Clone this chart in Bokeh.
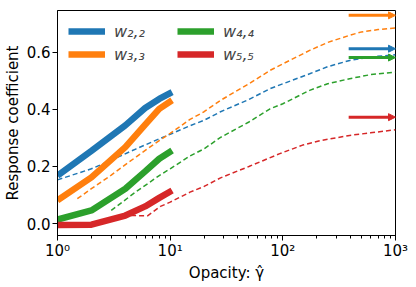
from bokeh.plotting import figure
from bokeh.models import (Range1d, FixedTicker, LogTicker, Legend, LegendItem,
                          Arrow, NormalHead, ColumnDataSource)
from bokeh.embed import file_html
from bokeh.resources import INLINE

# ---- data ----
labels = ["w₂,₂", "w₃,₃", "w₄,₄", "w₅,₅"]
colors = ["#1f77b4", "#ff7f0e", "#2ca02c", "#d62728"]

solid_x = [1, 2, 4, 6, 8, 10.4]
solid_w22 = [0.168, 0.255, 0.344, 0.405, 0.437, 0.461]
solid_w33 = [0.081, 0.162, 0.268, 0.347, 0.402, 0.432]
solid_w44 = [0.014, 0.046, 0.122, 0.183, 0.227, 0.256]
solid_w55 = [-0.005, -0.004, 0.028, 0.060, 0.090, 0.116]

dash_x_w22 = [1, 2, 3, 5, 8, 10, 15, 20, 28, 50, 77, 100, 173, 250, 392, 600, 1000]
dash_w22 = [0.153, 0.192, 0.222, 0.262, 0.297, 0.313, 0.343, 0.362, 0.392, 0.435,
            0.473, 0.490, 0.525, 0.550, 0.572, 0.584, 0.592]
dash_x_w33 = [1.5, 2, 3, 5, 8, 10, 15, 20, 28, 50, 77, 100, 173, 250, 392, 500,
              700, 1000]
dash_w33 = [0.087, 0.122, 0.170, 0.234, 0.291, 0.316, 0.365, 0.392, 0.432, 0.490,
            0.537, 0.560, 0.607, 0.635, 0.660, 0.672, 0.680, 0.686]
dash_x_w44 = [3, 5, 8, 10, 15, 20, 28, 50, 77, 100, 173, 250, 392, 600, 1000]
dash_w44 = [0.046, 0.112, 0.168, 0.192, 0.237, 0.262, 0.302, 0.356, 0.402, 0.420,
            0.467, 0.490, 0.508, 0.522, 0.531]
dash_x_w55 = [4.5, 6.3, 8.2, 10, 15, 20, 28, 50, 94, 150, 217, 392, 600, 1000]
dash_w55 = [0.028, 0.027, 0.060, 0.075, 0.110, 0.130, 0.160, 0.200, 0.245, 0.275,
            0.291, 0.309, 0.318, 0.329]

limit_values = [0.613, 0.730, 0.582, 0.373]
arrow_x_start = 384
arrow_x_end = 1000

y_ticks = [0.0, 0.2, 0.4, 0.6]
x_ticks = [1, 10, 100, 1000]
x_tick_labels = ["10⁰", "10¹", "10²", "10³"]

p = figure(width=410, height=284, x_axis_type="log",
           x_range=Range1d(1, 1000), y_range=Range1d(-0.042, 0.747),
           output_backend="svg", toolbar_location=None,
           min_border_left=57, min_border_top=10, min_border_right=15,
           min_border_bottom=49)
p.grid.visible = False
p.outline_line_color = "black"
p.outline_line_width = 1
p.background_fill_color = "white"
p.border_fill_color = "white"

solids = [solid_w22, solid_w33, solid_w44, solid_w55]
dxs = [dash_x_w22, dash_x_w33, dash_x_w44, dash_x_w55]
dys = [dash_w22, dash_w33, dash_w44, dash_w55]

items = []
for i in range(4):
    p.line(dxs[i], dys[i], line_color=colors[i], line_width=1.5,
           line_dash="5 3")
for i in range(4):
    r = p.line(solid_x, solids[i], line_color=colors[i], line_width=6.5)
    items.append(LegendItem(label=labels[i], renderers=[r]))

for i in range(4):
    src = ColumnDataSource(dict(x0=[arrow_x_start], x1=[arrow_x_end],
                                y=[limit_values[i]]))
    p.add_layout(Arrow(x_start="x0", x_end="x1", y_start="y", y_end="y",
                       source=src, line_color=colors[i], line_width=3,
                       end=NormalHead(size=7, fill_color=colors[i],
                                      line_color=colors[i], line_width=1)))

legend = Legend(items=items, ncols=2, location="top_left")
legend.margin = 0
legend.padding = 11
legend.spacing = 3
legend.glyph_width = 37
legend.glyph_height = 20
legend.label_standoff = 9
legend.label_width = 60
legend.label_text_font = "DejaVu Sans"
legend.label_text_font_size = "16px"
legend.label_text_font_style = "italic"
legend.background_fill_alpha = 0
legend.border_line_alpha = 0
p.add_layout(legend)

xa = p.xaxis[0]
xa.ticker = LogTicker(num_minor_ticks=10, desired_num_ticks=4)
xa.major_label_overrides = {x_ticks[i]: x_tick_labels[i] for i in range(4)}
xa.axis_label = "Opacity: γ̂"
ya = p.yaxis[0]
ya.ticker = FixedTicker(ticks=y_ticks)
ya.major_label_overrides = {v: f"{v:.1f}" for v in y_ticks}
ya.axis_label = "Response coefficient"
for ax in (xa, ya):
    ax.axis_label_text_font = "DejaVu Sans"
    ax.axis_label_text_font_size = "15px"
    ax.axis_label_text_font_style = "normal"
    ax.major_label_text_font = "DejaVu Sans"
    ax.major_label_text_font_size = "15px"
    ax.major_tick_out = 5
    ax.major_tick_in = 0
    ax.axis_line_color = "black"
    ax.major_tick_line_color = "black"
    ax.minor_tick_line_color = "black"
    ax.major_label_text_color = "black"
    ax.axis_label_text_color = "black"
ya.major_label_standoff = 2
ya.axis_label_standoff = 2
xa.major_label_standoff = 1
xa.axis_label_standoff = 1
xa.minor_tick_out = 3
xa.minor_tick_in = 0
ya.minor_tick_out = 0
ya.minor_tick_in = 0

open("out.html", "w").write(file_html(p, INLINE))
